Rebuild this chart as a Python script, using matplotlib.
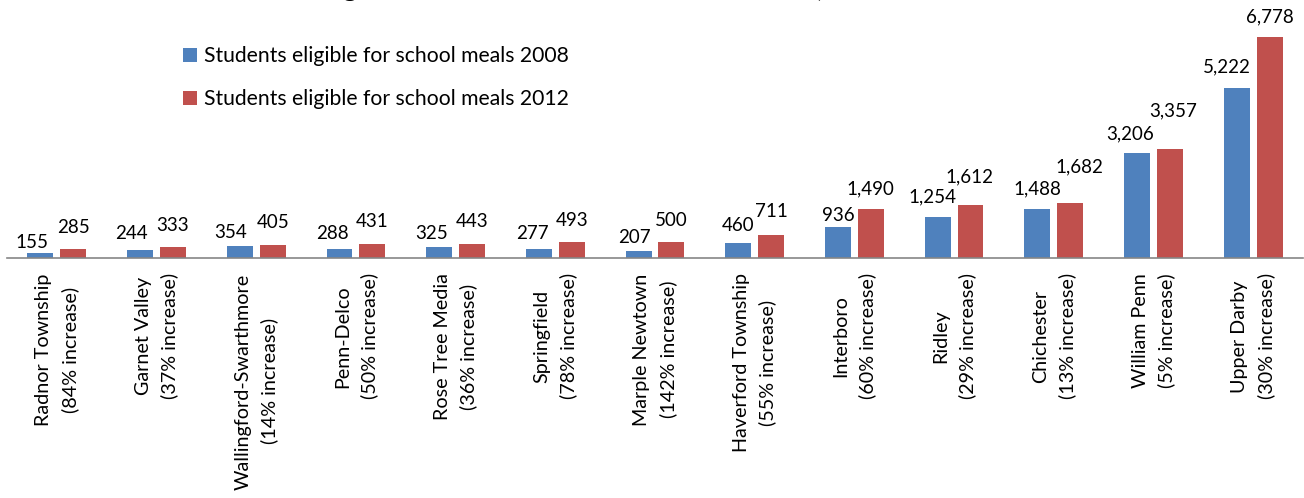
import numpy as np
import matplotlib
matplotlib.use("Agg")
import matplotlib.pyplot as plt

plt.rcParams['font.family'] = ['Lato', 'DejaVu Sans']

districts = ["Radnor Township", "Garnet Valley", "Wallingford-Swarthmore", "Penn-Delco",
             "Rose Tree Media", "Springfield", "Marple Newtown", "Haverford Township",
             "Interboro", "Ridley", "Chichester", "William Penn", "Upper Darby"]
pct_increase = [84, 37, 14, 50, 36, 78, 142, 55, 60, 29, 13, 5, 30]
meals_2008 = [155, 244, 354, 288, 325, 277, 207, 460, 936, 1254, 1488, 3206, 5222]
meals_2012 = [285, 333, 405, 431, 443, 493, 500, 711, 1490, 1612, 1682, 3357, 6778]

# label nudges in pixels (dx, dy above the bar top), so labels don't collide
nudge_2008 = [(-8, 10), (-9, 17), (-9, 14), (-7, 15), (-8, 14), (-6, 15), (-4, 14),
              (0, 18), (0, 12), (-5, 20), (0, 21), (-7, 20), (-10, 21)]
nudge_2012 = [(0, 21), (0, 22), (0, 22), (0, 22), (0, 22), (0, 21), (0, 21),
              (0, 23), (0, 21), (-1, 29), (9, 36), (3, 38), (0, 20)]

blue = '#4F81BD'
red = '#C0504D'

fig = plt.figure(figsize=(13.04, 4.98), dpi=100)
ax = fig.add_axes([7 / 1304, 240 / 498, 1296 / 1304, 258 / 498])

x = np.arange(len(districts))
w = 0.26
off = 0.165
b1 = ax.bar(x - off, meals_2008, w, color=blue, label='Students eligible for school meals 2008')
b2 = ax.bar(x + off, meals_2012, w, color=red, label='Students eligible for school meals 2012')

for i in range(len(x)):
    ax.annotate(f"{meals_2008[i]:,}", (x[i] - off, meals_2008[i]), xytext=nudge_2008[i],
                textcoords='offset pixels', ha='center', va='center', fontsize=13.5, color='black')
    ax.annotate(f"{meals_2012[i]:,}", (x[i] + off, meals_2012[i]), xytext=nudge_2012[i],
                textcoords='offset pixels', ha='center', va='center', fontsize=13.5, color='black')

ax.set_xlim(-0.5, len(x) - 0.5)
ax.set_ylim(0, 7913)
ax.set_yticks([])
for s in ['top', 'left', 'right']:
    ax.spines[s].set_visible(False)
ax.spines['bottom'].set_color('#868686')
ax.spines['bottom'].set_linewidth(1.2)

ticklabels = [f"{d}\n({p}% increase)" for d, p in zip(districts, pct_increase)]
ax.set_xticks(x)
ax.set_xticklabels(ticklabels, rotation=90, fontsize=14.2, ha='center', va='top',
                   multialignment='center', linespacing=1.6)
ax.tick_params(axis='x', length=0, pad=11)

fig.legend(handles=[b1, b2], loc='upper left', bbox_to_anchor=(183 / 1304, 1 - 46 / 498),
           frameon=False, fontsize=15.2, handlelength=0.65, handleheight=0.65,
           handletextpad=0.35, labelspacing=1.1, borderpad=0, borderaxespad=0)

# title sits mostly above the canvas
fig.text(607 / 1304, 1 + 3 / 498, "Students Eligible for Free and Reduced-Price Meals, 2008 and 2012",
         ha='center', va='baseline', fontsize=19.5, fontweight='bold')

fig.savefig('out.png', dpi=100)
